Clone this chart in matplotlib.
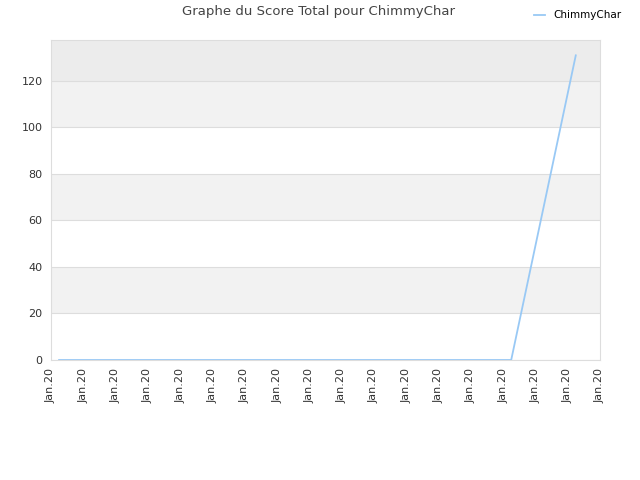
import matplotlib
matplotlib.use("Agg")
import matplotlib.pyplot as plt

# data: score total per date (all labelled Jan.20 on the axis)
player = "ChimmyChar"
x_points = [0.25, 2.25, 4.25, 6.25, 8.25, 10.25, 12.25, 14.25, 16.25]
scores = [0, 0, 0, 0, 0, 0, 0, 0, 131]
tick_labels = ["Jan.20"] * 18
y_ticks = [0, 20, 40, 60, 80, 100, 120]

fig = plt.figure(figsize=(6.4, 4.8), dpi=100)
ax = fig.add_axes([51 / 640, 120 / 480, 549 / 640, 320 / 480])

# alternating background bands
ax.axhspan(20, 40, color="#f2f2f2", zorder=0, lw=0)
ax.axhspan(60, 80, color="#f2f2f2", zorder=0, lw=0)
ax.axhspan(100, 120, color="#f2f2f2", zorder=0, lw=0)
ax.axhspan(120, 140, color="#ececec", zorder=0, lw=0)

ax.plot(x_points, scores, color="#99c9f5", lw=1.3, label=player, zorder=3)

ax.set_xlim(0, 17)
ax.set_ylim(0, 137.6)
ax.set_xticks(range(len(tick_labels)))
ax.set_xticklabels(tick_labels, rotation=90, fontsize=8, color="#333333")
ax.set_yticks(y_ticks)
ax.set_yticklabels([str(v) for v in y_ticks], fontsize=8, color="#333333")
ax.tick_params(length=0, pad=6)
ax.grid(axis="y", color="#dddddd", lw=0.8, zorder=1)
ax.set_axisbelow(True)
for s in ax.spines.values():
    s.set_color("#dddddd")

fig.text(318 / 640, 1 - 12 / 480, "Graphe du Score Total pour ChimmyChar",
         ha="center", va="center", fontsize=9.5, color="#444444")
fig.legend(loc="upper right", bbox_to_anchor=(0.985, 0.998), frameon=False,
           fontsize=7.5, handlelength=1.0, handletextpad=0.8)

fig.savefig("out.png", dpi=100)
